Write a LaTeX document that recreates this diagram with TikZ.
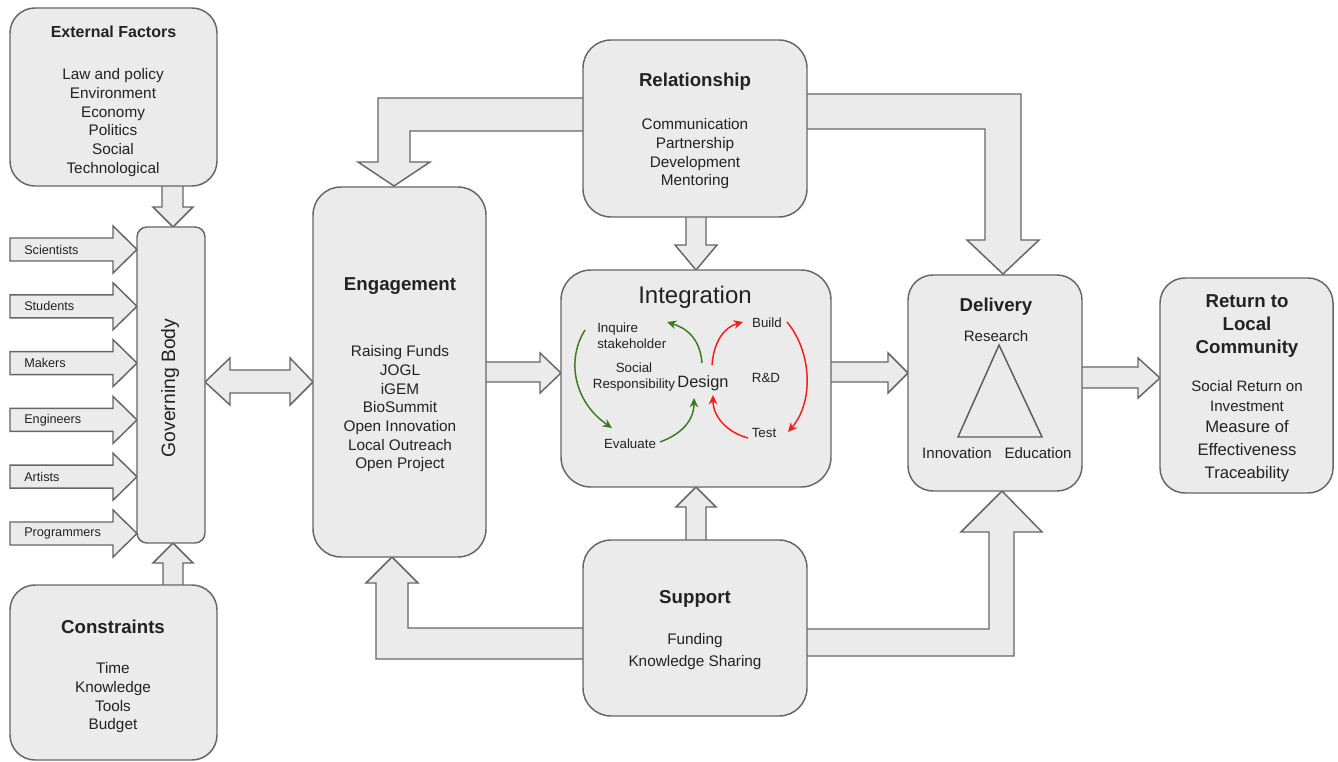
\documentclass[tikz,border=0pt]{standalone}
\usepackage{fontspec}
\setmainfont{Liberation Sans}
\usetikzlibrary{arrows.meta,fit}
\definecolor{boxfill}{HTML}{EBEBEB}
\definecolor{boxline}{HTML}{666666}
\definecolor{tx}{HTML}{222222}
\definecolor{dgreen}{HTML}{3C7A22}
\definecolor{rred}{HTML}{FF1A1A}
\begin{document}
\begin{tikzpicture}[x=0.75pt,y=-0.75pt,
  box/.style={draw=boxline, fill=boxfill, line width=1.1pt, inner sep=0pt, rounded corners=#1},
  blk/.style={draw=boxline, fill=boxfill, line width=1.1pt, line join=miter},
  txt/.style={font=\fontsize{11.5}{14}\selectfont, align=center, text=tx, inner sep=0pt},
  ttl/.style={font=\fontsize{14}{17.6}\selectfont\bfseries, align=center, text=tx, inner sep=0pt},
  lbl/.style={font=\fontsize{9.5}{11}\selectfont, text=tx, inner sep=0pt},
  small/.style={font=\fontsize{10}{12}\selectfont, text=tx, inner sep=0pt},
  garr/.style={draw=dgreen, line width=1.1pt, -{Stealth[length=7pt,width=6.5pt]}},
  rarr/.style={draw=rred, line width=1.1pt, -{Stealth[length=7pt,width=6.5pt]}}
]
\useasboundingbox (0,0) rectangle (1338,762);

% ---------- block arrows (drawn first, boxes cover their roots)
% External -> Governing
\draw[blk] (162,180) -- (162,207) -- (153,207) -- (173,227) -- (193,207) -- (183,207) -- (183,180) -- cycle;
% Constraints -> Governing
\draw[blk] (163,590) -- (163,563) -- (153,563) -- (173,543) -- (193,563) -- (183,563) -- (183,590) -- cycle;
% stakeholder arrows
\foreach \yc/\lab/\nm in {249.5/Scientists/sci, 306.3/Students/stu, 363.1/Makers/mak, 419.9/Engineers/eng2, 476.7/Artists/art, 533.5/Programmers/prg}{
  \draw[blk] (10,\yc-11.5) -- (113,\yc-11.5) -- (113,\yc-23.5) -- (137,\yc) -- (113,\yc+23.5) -- (113,\yc+11.5) -- (10,\yc+11.5) -- cycle;
  \node[lbl, anchor=west] (\nm) at (24,\yc) {\lab};
}
% Governing <-> Engagement
\draw[blk] (205,382) -- (230,358) -- (230,370) -- (290,370) -- (290,358) -- (313,382) -- (290,405) -- (290,393) -- (230,393) -- (230,405) -- cycle;
% Engagement -> Integration
\draw[blk] (480,362) -- (540,362) -- (540,353) -- (561,373) -- (540,393) -- (540,382) -- (480,382) -- cycle;
% Integration -> Delivery
\draw[blk] (825,362) -- (888,362) -- (888,353) -- (908,373) -- (888,393) -- (888,382) -- (825,382) -- cycle;
% Delivery -> Return
\draw[blk] (1077,367) -- (1138,367) -- (1138,358) -- (1160,378) -- (1138,398) -- (1138,388) -- (1077,388) -- cycle;
% Relationship -> Integration
\draw[blk] (686,210) -- (686,245) -- (675,245) -- (696,270) -- (717,245) -- (706,245) -- (706,210) -- cycle;
% Support -> Integration
\draw[blk] (686,545) -- (686,507) -- (676,507) -- (696,487) -- (716,507) -- (706,507) -- (706,545) -- cycle;
% Relationship -> Engagement
\draw[blk] (590,98) -- (378,98) -- (378,162) -- (358,162) -- (394,186) -- (430,162) -- (410,162) -- (410,131) -- (590,131) -- cycle;
% Relationship -> Delivery
\draw[blk] (800,94) -- (1021,94) -- (1021,240) -- (1039,240) -- (1003,274) -- (967,240) -- (985,240) -- (985,129) -- (800,129) -- cycle;
% Support -> Engagement
\draw[blk] (590,659) -- (376,659) -- (376,583) -- (366,583) -- (392,557) -- (418,583) -- (408,583) -- (408,628) -- (590,628) -- cycle;
% Support -> Delivery
\draw[blk] (800,629) -- (989,629) -- (989,532) -- (961,532) -- (1002,491) -- (1042,532) -- (1014,532) -- (1014,656) -- (800,656) -- cycle;

% ---------- boxes
\node[box=18.75pt, fit={(10,8) (217,186)}] (ext) {};
\node[box=7.5pt, fit={(137,227) (205,543)}] (gov) {};
\node[box=18.75pt, fit={(10,585) (217,760)}] (cons) {};
\node[box=21pt, fit={(313,187) (486,557)}] (eng) {};
\node[box=21pt, fit={(583,40) (807,217)}] (rel) {};
\node[box=22.5pt, fit={(561,270) (831,487)}] (int) {};
\node[box=21pt, fit={(583,540) (807,716)}] (sup) {};
\node[box=18.75pt, fit={(908,275) (1082,491)}] (del) {};
\node[box=18.75pt, fit={(1160,278) (1333,493)}] (ret) {};

% ---------- texts
\node[ttl, font=\fontsize{12}{14}\selectfont\bfseries] (extT) at (113.5,32) {External Factors};
\node[txt] (extI) at (113,122.5) {Law and policy\\Environment\\Economy\\Politics\\Social\\Technological};

\node[txt, font=\fontsize{14.5}{16}\selectfont, rotate=90] (govT) at (170,388) {Governing Body};

\node[ttl] (consT) at (113,627) {Constraints};
\node[txt] (consI) at (113,698) {Time\\Knowledge\\Tools\\Budget};

\node[ttl] (engT) at (400,286) {Engagement};
\node[txt] (engI) at (400,409) {Raising Funds\\JOGL\\iGEM\\BioSummit\\Open Innovation\\Local Outreach\\Open Project};

\node[ttl] (relT) at (695,82) {Relationship};
\node[txt] (relI) at (695,154) {Communication\\Partnership\\Development\\Mentoring};

\node[ttl] (supT) at (695,599) {Support};
\node[txt, font=\fontsize{11.5}{16.5}\selectfont] (supI) at (695,652) {Funding\\Knowledge Sharing};

\node[txt, font=\fontsize{18}{20}\selectfont] (intT) at (695,297) {Integration};
\node[small, align=left, anchor=west] (inq) at (597,336) {Inquire\\stakeholder};
\node[small, align=center] (soc) at (634,377) {Social\\Responsibility};
\node[txt, font=\fontsize{12.3}{14}\selectfont] (des) at (703,383) {Design};
\node[small] (rd) at (766,378) {R\&D};
\node[small] (bld) at (767,323) {Build};
\node[small] (tst) at (764,433) {Test};
\node[small] (evl) at (630,444) {Evaluate};

\coordinate (g1a) at (585,330);  \coordinate (g1b) at (612,428);
\coordinate (g2a) at (660,442);  \coordinate (g2b) at (694,398);
\coordinate (g3a) at (702,363);  \coordinate (g3b) at (667,322);
\coordinate (r1a) at (712,365);  \coordinate (r1b) at (743,322);
\coordinate (r2a) at (787,322);  \coordinate (r2b) at (788,432);
\coordinate (r3a) at (748,438);  \coordinate (r3b) at (713,395);
\draw[garr] (g1a) .. controls (566,360) and (574,402) .. (g1b);
\draw[garr] (g2a) .. controls (682,434) and (694,420) .. (g2b);
\draw[garr] (g3a) .. controls (700,338) and (686,328) .. (g3b);
\draw[rarr] (r1a) .. controls (714,340) and (725,327) .. (r1b);
\draw[rarr] (r2a) .. controls (812,352) and (814,402) .. (r2b);
\draw[rarr] (r3a) .. controls (726,432) and (713,416) .. (r3b);

\node[ttl] (delT) at (996,307) {Delivery};
\node[txt, font=\fontsize{11.3}{13}\selectfont] (res) at (996,336) {Research};
\coordinate (ta) at (999,345); \coordinate (tb) at (958,437); \coordinate (tc) at (1042,437);
\draw[draw=boxline!90!black, line width=1.1pt] (ta) -- (tb) -- (tc) -- cycle;
\node[txt, font=\fontsize{11.3}{13}\selectfont] (inn) at (957,453) {Innovation};
\node[txt, font=\fontsize{11.3}{13}\selectfont] (edu) at (1038,453) {Education};

\node[ttl] (retT) at (1247,326) {Return to\\Local\\Community};
\node[txt, font=\fontsize{11.3}{14.6}\selectfont] (retA) at (1247,396) {Social Return on\\Investment};
\node[txt, font=\fontsize{12.5}{17.3}\selectfont] (retB) at (1247,451) {Measure of\\Effectiveness\\Traceability};
\end{tikzpicture}
\end{document}
